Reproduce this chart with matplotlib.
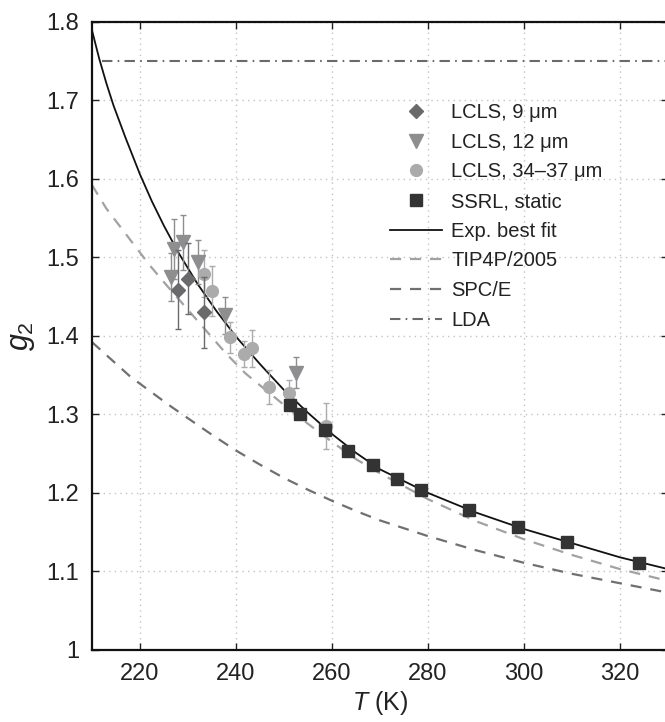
import matplotlib
matplotlib.use('Agg')
import matplotlib.pyplot as plt
from matplotlib.lines import Line2D

plt.rcParams['font.family'] = ['Liberation Sans', 'DejaVu Sans']
plt.rcParams['mathtext.fontset'] = 'custom'
plt.rcParams['mathtext.it'] = 'Liberation Sans:italic'
plt.rcParams['mathtext.rm'] = 'Liberation Sans'

# ---------------- data ----------------
t_9um = [228.0, 230.1, 233.4]
g_9um = [1.459, 1.473, 1.430]
e_9um = [0.050, 0.045, 0.045]

t_12um = [226.4, 227.1, 229.0, 232.0, 237.7, 252.4]
g_12um = [1.475, 1.511, 1.519, 1.494, 1.426, 1.353]
e_12um = [0.030, 0.038, 0.035, 0.028, 0.024, 0.020]

t_34um = [233.4, 234.9, 238.75, 241.7, 243.3, 246.9, 251.1, 258.75]
g_34um = [1.479, 1.457, 1.398, 1.377, 1.384, 1.335, 1.327, 1.285]
e_34um = [0.030, 0.032, 0.020, 0.017, 0.024, 0.022, 0.017, 0.029]

t_ssrl = [251.3, 253.3, 258.5, 263.3, 268.5, 273.5, 278.5, 288.5, 298.7, 308.9, 324.0]
g_ssrl = [1.312, 1.301, 1.280, 1.254, 1.235, 1.218, 1.204, 1.178, 1.156, 1.137, 1.111]

t_fit = [210, 211.5, 213, 214.5, 217, 220, 222.5, 225, 228, 232, 236, 240, 245,
         250, 255, 260, 265, 270, 280, 290, 300, 310, 320, 330]
g_fit = [1.789, 1.753, 1.7215, 1.693, 1.652, 1.6055, 1.571, 1.540, 1.506, 1.466,
         1.431, 1.399, 1.364, 1.331, 1.302, 1.275, 1.251, 1.230, 1.200, 1.175,
         1.154, 1.136, 1.118, 1.103]

t_tip4p = [210, 213, 216, 219, 222, 225.6, 232, 238, 242, 250, 255, 260, 265,
           270, 280, 290, 300, 310, 320, 330]
g_tip4p = [1.592, 1.562, 1.538, 1.514, 1.490, 1.464, 1.419, 1.377, 1.352, 1.312,
           1.288, 1.265, 1.243, 1.225, 1.192, 1.164, 1.141, 1.121, 1.103, 1.088]

t_spce = [210, 214, 218, 222, 226, 230, 235, 240, 245, 250, 255, 260, 265, 270,
          280, 290, 300, 310, 320, 330]
g_spce = [1.392, 1.370, 1.348, 1.330, 1.312, 1.295, 1.274, 1.254, 1.236, 1.219,
          1.204, 1.190, 1.177, 1.165, 1.145, 1.127, 1.111, 1.097, 1.085, 1.073]

t_lda = [212, 330]
g_lda = [1.75, 1.75]

x_ticks = [220, 240, 260, 280, 300, 320]
y_ticks = [1.0, 1.1, 1.2, 1.3, 1.4, 1.5, 1.6, 1.7, 1.8]
y_ticklabels = ['1', '1.1', '1.2', '1.3', '1.4', '1.5', '1.6', '1.7', '1.8']

labels = ['LCLS, 9 \u03bcm', 'LCLS, 12 \u03bcm', 'LCLS, 34\u201337 \u03bcm',
          'SSRL, static', 'Exp. best fit', 'TIP4P/2005', 'SPC/E', 'LDA']

# ---------------- styles ----------------
c_dia = '#6a6a6c'
c_tri = '#8e8e90'
c_cir = '#ababab'
c_sq = '#333333'
c_fit = '#111111'
c_tip = '#a2a2a2'
c_spc = '#707070'
c_lda = '#6a6a6a'

fig = plt.figure(figsize=(6.65, 7.22), dpi=100)
ax = fig.add_axes([92 / 665, 72 / 722, 576 / 665, 628.3 / 722])

ax.plot(t_lda, g_lda, color=c_lda, lw=1.5, dashes=(5, 2.5, 0.8, 2.5), zorder=2)
ax.plot(t_spce, g_spce, color=c_spc, lw=1.6, dashes=(5, 4), zorder=2)
ax.plot(t_tip4p, g_tip4p, color=c_tip, lw=1.6, dashes=(5, 4), zorder=2)
ax.plot(t_fit, g_fit, color=c_fit, lw=1.3, zorder=3)

ax.errorbar(t_12um, g_12um, yerr=e_12um, fmt='v', color=c_tri, ms=9.5,
            ecolor=c_tri, elinewidth=1.0, capsize=2, zorder=4)
ax.errorbar(t_9um, g_9um, yerr=e_9um, fmt='D', color=c_dia, ms=7,
            ecolor=c_dia, elinewidth=1.0, capsize=2, zorder=5)
ax.errorbar(t_34um, g_34um, yerr=e_34um, fmt='o', color=c_cir, ms=8.5,
            ecolor=c_cir, elinewidth=1.0, capsize=2, zorder=4)
ax.plot(t_ssrl, g_ssrl, 's', color=c_sq, ms=8.5, zorder=6)

ax.set_xlim(210, 330)
ax.set_ylim(1.0, 1.8)
ax.set_xticks(x_ticks)
ax.set_yticks(y_ticks)
ax.set_yticklabels(y_ticklabels)
ax.tick_params(direction='in', length=5, width=1.0, labelsize=17, pad=9,
               top=True, right=True, colors='#222222')
ax.grid(True, color='#c4c4c4', linestyle=(0, (1, 3)), lw=1.0)
for s in ax.spines.values():
    s.set_linewidth(1.6)
    s.set_color('#111111')

ax.set_xlabel(r'$T$ (K)', fontsize=18, labelpad=3, color='#222222')
ax.set_ylabel(r'$g_2$', fontsize=22, labelpad=7, color='#222222')

handles = [
    Line2D([], [], marker='D', color=c_dia, ls='none', ms=7),
    Line2D([], [], marker='v', color=c_tri, ls='none', ms=9.5),
    Line2D([], [], marker='o', color=c_cir, ls='none', ms=8.5),
    Line2D([], [], marker='s', color=c_sq, ls='none', ms=8),
    Line2D([], [], color=c_fit, lw=1.3),
    Line2D([], [], color=c_tip, lw=1.6, dashes=(5, 4)),
    Line2D([], [], color=c_spc, lw=1.6, dashes=(5, 4)),
    Line2D([], [], color=c_lda, lw=1.5, dashes=(5, 2.5, 0.8, 2.5)),
]
leg = ax.legend(handles, labels, loc='upper left',
                bbox_to_anchor=(390 / 665, 1 - 103 / 722),
                bbox_transform=fig.transFigure, frameon=False, fontsize=14.5,
                handlelength=2.6, handletextpad=0.45, labelspacing=0.53,
                borderpad=0, borderaxespad=0)
for t in leg.get_texts():
    t.set_color('#222222')

fig.savefig('out.png', dpi=100)
